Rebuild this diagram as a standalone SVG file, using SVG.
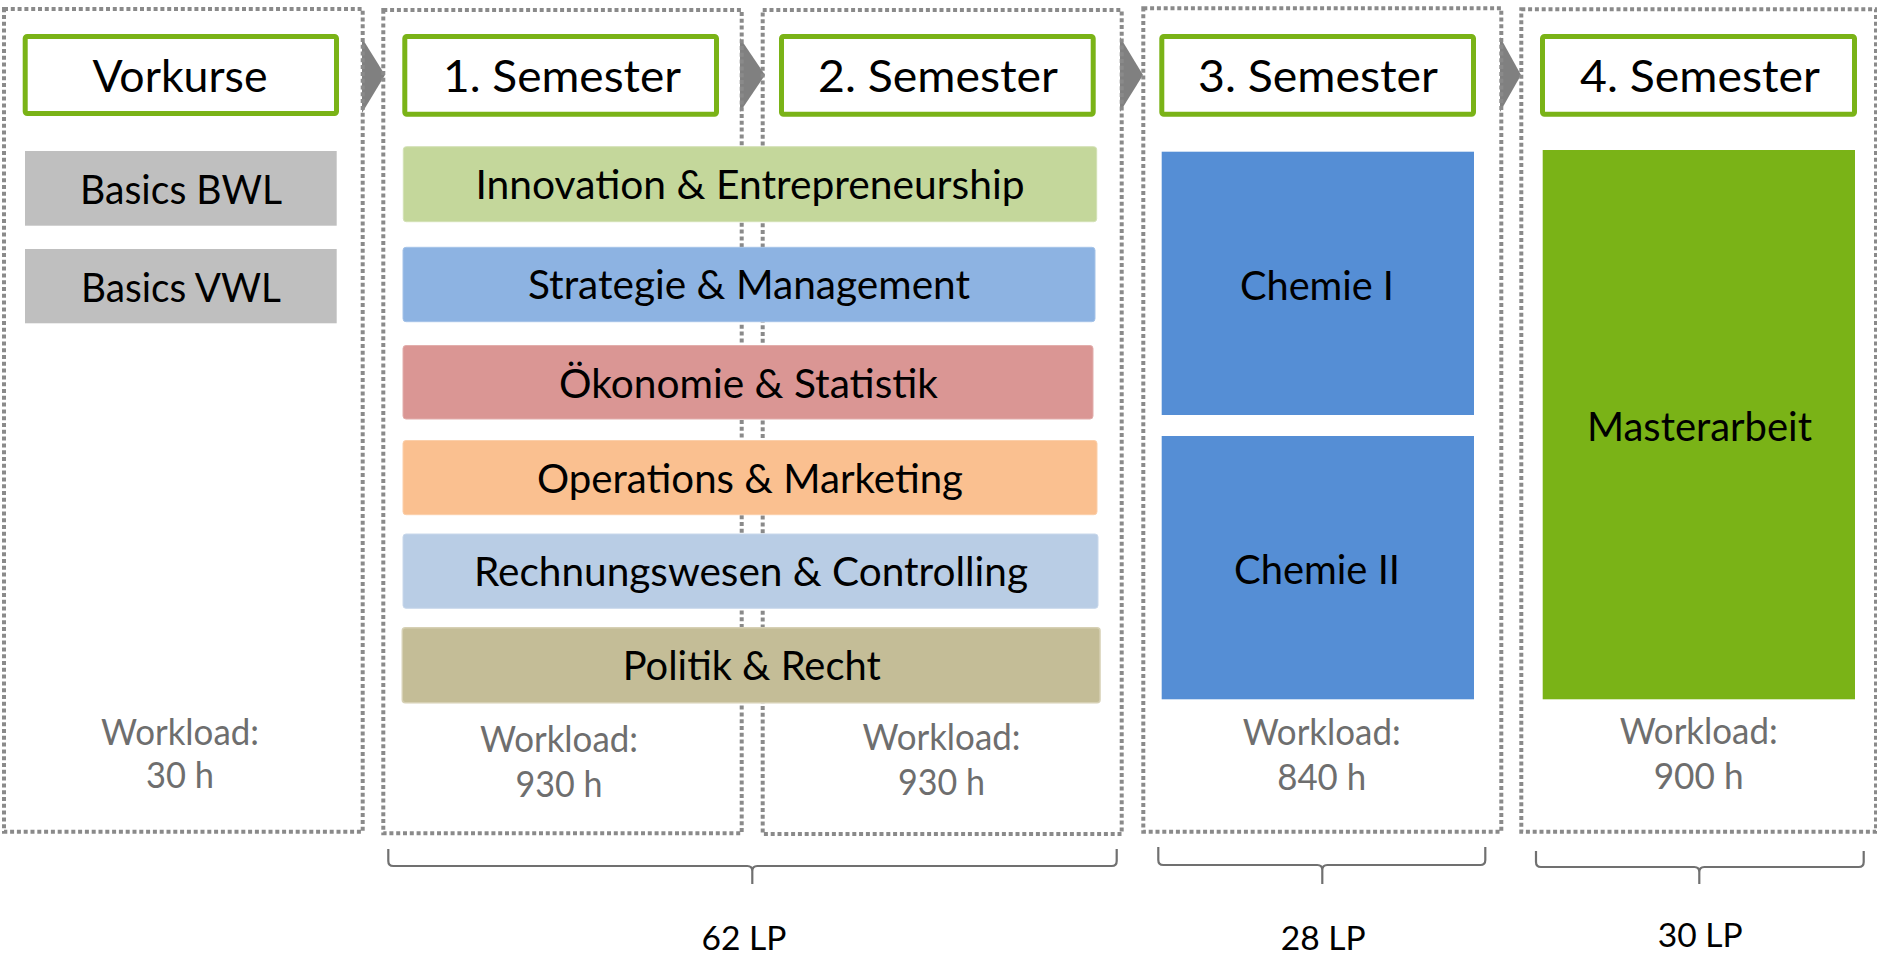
<svg xmlns="http://www.w3.org/2000/svg" width="1877" height="954" viewBox="0 0 1877 954">
<style>
text{font-family:Lato,"Noto Sans","Liberation Sans",sans-serif;text-anchor:middle}
.col{fill:none;stroke:#8a8a8a;stroke-width:4;stroke-dasharray:4 2.8}
.hd{fill:#fff;stroke:#7ab317;stroke-width:5}
.ht{font-size:44px;fill:#000}
.bt{font-size:40px;fill:#000}
.wl{font-size:36px;fill:#6e6e6e}
.lp{font-size:32px;fill:#000}
.arr{fill:#808080}
.br{fill:none;stroke:#707070;stroke-width:2.2}
</style>
<g id="connectors">
<polygon class="arr" points="362,38 385,75 362,113"/>
<polygon class="arr" points="740,38 765,75 740,112"/>
<polygon class="arr" points="1120,37 1143,75 1120,112"/>
<polygon class="arr" points="1500,37 1521,75 1500,112"/>
</g>
<g id="col-vorkurse">
<rect class="col" x="4" y="9" width="358.7" height="822.7"/>
<rect class="hd" x="25.2" y="36.5" width="311.3" height="77" rx="2"/>
<text class="ht" x="180" y="92" textLength="175" lengthAdjust="spacingAndGlyphs">Vorkurse</text>
<g id="basics-bwl"><rect x="25" y="151" width="311.7" height="74.7" fill="#bfbfbf"/>
<text class="bt" x="181" y="203.5" textLength="202" lengthAdjust="spacingAndGlyphs">Basics BWL</text></g>
<g id="basics-vwl"><rect x="25" y="249" width="311.7" height="74.3" fill="#bfbfbf"/>
<text class="bt" x="181" y="301.5" textLength="200" lengthAdjust="spacingAndGlyphs">Basics VWL</text></g>
<text class="wl" x="180" y="745" textLength="158" lengthAdjust="spacingAndGlyphs">Workload:</text>
<text class="wl" x="180" y="788" textLength="68" lengthAdjust="spacingAndGlyphs">30 h</text>
</g>
<g id="col-sem1">
<rect class="col" x="383.3" y="10" width="358.4" height="823.3"/>
<rect class="hd" x="404.8" y="36.5" width="311.7" height="77.7" rx="2"/>
<text class="ht" x="562" y="92" textLength="238" lengthAdjust="spacingAndGlyphs">1. Semester</text>
<text class="wl" x="559" y="752" textLength="158" lengthAdjust="spacingAndGlyphs">Workload:</text>
<text class="wl" x="559" y="797" textLength="87" lengthAdjust="spacingAndGlyphs">930 h</text>
</g>
<g id="col-sem2">
<rect class="col" x="762.7" y="10" width="359" height="824"/>
<rect class="hd" x="781.5" y="36.5" width="311.7" height="77.7" rx="2"/>
<text class="ht" x="938" y="92" textLength="240" lengthAdjust="spacingAndGlyphs">2. Semester</text>
<text class="wl" x="941.5" y="750" textLength="158" lengthAdjust="spacingAndGlyphs">Workload:</text>
<text class="wl" x="941.5" y="795" textLength="87" lengthAdjust="spacingAndGlyphs">930 h</text>
</g>
<g id="col-sem3">
<rect class="col" x="1143.3" y="8.3" width="358" height="823.4"/>
<rect class="hd" x="1161.8" y="36.5" width="311.7" height="77.7" rx="2"/>
<text class="ht" x="1318" y="92" textLength="240" lengthAdjust="spacingAndGlyphs">3. Semester</text>
<text class="wl" x="1321.7" y="745" textLength="158" lengthAdjust="spacingAndGlyphs">Workload:</text>
<text class="wl" x="1321.7" y="790" textLength="89" lengthAdjust="spacingAndGlyphs">840 h</text>
</g>
<g id="col-sem4">
<rect class="col" x="1521.3" y="9.3" width="354.7" height="822.4"/>
<rect class="hd" x="1542.5" y="36.5" width="312" height="77.7" rx="2"/>
<text class="ht" x="1700" y="92" textLength="240" lengthAdjust="spacingAndGlyphs">4. Semester</text>
<text class="wl" x="1698.7" y="744" textLength="158" lengthAdjust="spacingAndGlyphs">Workload:</text>
<text class="wl" x="1698.7" y="789" textLength="90" lengthAdjust="spacingAndGlyphs">900 h</text>
</g>
<g id="innovation"><rect x="403.3" y="146.7" width="693.4" height="75" rx="3" fill="#c4d79b" stroke="#d3e1b6" stroke-width="1"/>
<text class="bt" x="750" y="199" textLength="549" lengthAdjust="spacingAndGlyphs">Innovation &amp; Entrepreneurship</text></g>
<g id="strategie"><rect x="403" y="247.3" width="692" height="74.4" rx="3" fill="#8db3e2" stroke="#a5c3e8" stroke-width="1"/>
<text class="bt" x="749" y="299" textLength="442" lengthAdjust="spacingAndGlyphs">Strategie &amp; Management</text></g>
<g id="oekonomie"><rect x="403" y="345.5" width="690" height="73.5" rx="3" fill="#da9694" stroke="#e2aeac" stroke-width="1"/>
<text class="bt" x="748.5" y="397.5" textLength="379" lengthAdjust="spacingAndGlyphs">Ökonomie &amp; Statistik</text></g>
<g id="operations"><rect x="403" y="440.5" width="694" height="74.2" rx="3" fill="#fac090" stroke="#fbcfaa" stroke-width="1"/>
<text class="bt" x="750" y="492.5" textLength="426" lengthAdjust="spacingAndGlyphs">Operations &amp; Marketing</text></g>
<g id="rechnungswesen"><rect x="403" y="534" width="695" height="74.3" rx="3" fill="#b9cde5" stroke="#c9d8eb" stroke-width="1"/>
<text class="bt" x="751" y="586" textLength="554" lengthAdjust="spacingAndGlyphs">Rechnungswesen &amp; Controlling</text></g>
<g id="politik"><rect x="402.3" y="627.7" width="697.7" height="75" rx="3" fill="#c4bd97" stroke="#d6d0b4" stroke-width="1.5"/>
<text class="bt" x="751.7" y="680" textLength="258" lengthAdjust="spacingAndGlyphs">Politik &amp; Recht</text></g>
<g id="chemie1"><rect x="1161.7" y="151.7" width="312.3" height="263.3" fill="#558ed5"/>
<text class="bt" x="1317" y="300" textLength="154" lengthAdjust="spacingAndGlyphs">Chemie I</text></g>
<g id="chemie2"><rect x="1161.7" y="436" width="312.3" height="263.3" fill="#558ed5"/>
<text class="bt" x="1317" y="584" textLength="166" lengthAdjust="spacingAndGlyphs">Chemie II</text></g>
<g id="masterarbeit"><rect x="1542.7" y="150" width="312.3" height="549.3" fill="#7ab317"/>
<text class="bt" x="1699.5" y="441" textLength="225" lengthAdjust="spacingAndGlyphs">Masterarbeit</text></g>
<g id="brace-62">
<path class="br" d="M388.3,849 V861 Q388.3,866 393.3,866 H747.3 Q752.3,866 752.3,871 V884 M752.3,871 Q752.3,866 757.3,866 H1111.7 Q1116.7,866 1116.7,861 V849"/>
<text class="lp" x="744" y="950" textLength="85" lengthAdjust="spacingAndGlyphs">62 LP</text>
</g>
<g id="brace-28">
<path class="br" d="M1158.3,847 V860 Q1158.3,865 1163.3,865 H1317.3 Q1322.3,865 1322.3,870 V884 M1322.3,870 Q1322.3,865 1327.3,865 H1480.3 Q1485.3,865 1485.3,860 V847"/>
<text class="lp" x="1323.3" y="950" textLength="85" lengthAdjust="spacingAndGlyphs">28 LP</text>
</g>
<g id="brace-30">
<path class="br" d="M1536,851 V862 Q1536,867 1541,867 H1694.3 Q1699.3,867 1699.3,872 V884 M1699.3,872 Q1699.3,867 1704.3,867 H1858.7 Q1863.7,867 1863.7,862 V851"/>
<text class="lp" x="1700.3" y="946.5" textLength="85" lengthAdjust="spacingAndGlyphs">30 LP</text>
</g>
</svg>
